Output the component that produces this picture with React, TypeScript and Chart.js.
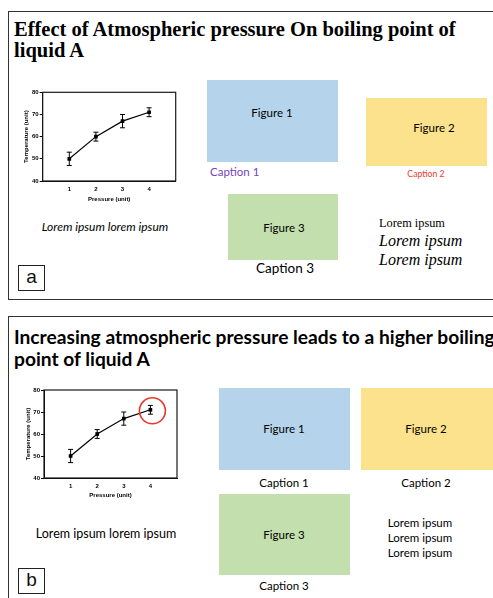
import React, { useEffect, useRef } from "react";
import { Chart, registerables } from "chart.js";

Chart.register(...registerables);

// ---- data ----
const pressure = [1, 2, 3, 4];
const temperature = [50, 60, 67, 71];
const tempError = [3, 2, 3, 2];
const xTickValues = [1, 2, 3, 4];
const yTickStep = 10;
const yRange = [40, 80];
const xRange = [0, 5];
const highlightIndex = 3;

const AXIS_FONT = { family: "'Liberation Sans', Arial, sans-serif", size: 6, weight: "bold" as const };

const errorBarPlugin = {
  id: "errorBars",
  afterDatasetsDraw(chart: any) {
    const { ctx } = chart;
    const x = chart.scales.x;
    const y = chart.scales.y;
    ctx.save();
    ctx.strokeStyle = "#000";
    ctx.lineWidth = 1;
    pressure.forEach((p, i) => {
      const px = x.getPixelForValue(p);
      const top = y.getPixelForValue(temperature[i] + tempError[i]);
      const bot = y.getPixelForValue(temperature[i] - tempError[i]);
      ctx.beginPath();
      ctx.moveTo(px, top);
      ctx.lineTo(px, bot);
      ctx.moveTo(px - 2.5, top);
      ctx.lineTo(px + 2.5, top);
      ctx.moveTo(px - 2.5, bot);
      ctx.lineTo(px + 2.5, bot);
      ctx.stroke();
    });
    ctx.restore();
  },
};

const boxPlugin = {
  id: "plotBox",
  afterDraw(chart: any) {
    const { ctx, chartArea } = chart;
    ctx.save();
    ctx.strokeStyle = "#1a1a1a";
    ctx.lineWidth = 1.2;
    ctx.strokeRect(chartArea.left, chartArea.top, chartArea.right - chartArea.left, chartArea.bottom - chartArea.top);
    ctx.restore();
  },
};

const highlightPlugin = {
  id: "highlight",
  afterDraw(chart: any, _args: any, opts: any) {
    if (!opts || !opts.show) return;
    const { ctx } = chart;
    const px = chart.scales.x.getPixelForValue(pressure[highlightIndex]) + 2;
    const py = chart.scales.y.getPixelForValue(temperature[highlightIndex]) + 1;
    ctx.save();
    ctx.strokeStyle = "#e8392d";
    ctx.lineWidth = 1.6;
    ctx.beginPath();
    ctx.arc(px, py, 13, 0, Math.PI * 2);
    ctx.stroke();
    ctx.restore();
  },
};

type ChartProps = {
  left: number;
  top: number;
  width: number;
  height: number;
  yAxisWidth: number;
  padTop: number;
  padRight: number;
  xAxisHeight: number;
  xTitlePadBottom: number;
  yTitlePadTop: number;
  highlight?: boolean;
};

function ErrorChart(p: ChartProps) {
  const ref = useRef<HTMLCanvasElement | null>(null);
  useEffect(() => {
    if (!ref.current) return;
    const chart = new Chart(ref.current, {
      type: "line",
      data: {
        datasets: [
          {
            data: pressure.map((x, i) => ({ x, y: temperature[i] })),
            borderColor: "#000",
            borderWidth: 1.2,
            pointStyle: "rect",
            pointRadius: 2.6,
            pointBackgroundColor: "#000",
            pointBorderColor: "#000",
            pointBorderWidth: 0,
            tension: 0,
          },
        ],
      },
      options: {
        responsive: false,
        animation: false,
        devicePixelRatio: 1,
        layout: { padding: { top: p.padTop, right: p.padRight, left: 0, bottom: 0 } },
        plugins: {
          legend: { display: false },
          tooltip: { enabled: false },
          highlight: { show: !!p.highlight },
        } as any,
        scales: {
          x: {
            type: "linear",
            min: xRange[0],
            max: xRange[1],
            afterBuildTicks: (axis: any) => {
              axis.ticks = xTickValues.map((v) => ({ value: v }));
            },
            afterFit: (s: any) => {
              s.height = p.xAxisHeight;
            },
            grid: { display: false, drawTicks: false, tickLength: 0 },
            border: { display: true, color: "#000", width: 1 },
            ticks: { font: AXIS_FONT, color: "#000", padding: 5, maxRotation: 0 },
            title: {
              display: true,
              text: "Pressure (unit)",
              font: AXIS_FONT,
              color: "#000",
              padding: { top: 0, bottom: p.xTitlePadBottom },
            },
          },
          y: {
            type: "linear",
            min: yRange[0],
            max: yRange[1],
            afterFit: (s: any) => {
              s.width = p.yAxisWidth;
            },
            grid: { display: true, drawOnChartArea: false, drawTicks: true, tickLength: 3, color: "#000" },
            border: { display: true, color: "#000", width: 1 },
            ticks: { stepSize: yTickStep, font: AXIS_FONT, color: "#000", padding: 1 },
            title: {
              display: true,
              text: "Temperature (unit)",
              font: AXIS_FONT,
              color: "#000",
              padding: { top: p.yTitlePadTop, bottom: 0 },
            },
          },
        },
      },
      plugins: [errorBarPlugin, boxPlugin, highlightPlugin],
    } as any);
    return () => chart.destroy();
  }, []);
  return (
    <canvas
      ref={ref}
      width={p.width}
      height={p.height}
      style={{ position: "absolute", left: p.left, top: p.top, width: p.width, height: p.height }}
    />
  );
}

type TProps = {
  x: number;
  y: number;
  center?: boolean;
  size: number;
  family: string;
  color?: string;
  italic?: boolean;
  bold?: boolean;
  children: React.ReactNode;
};

function T({ x, y, center, size, family, color = "#000", italic, bold, children }: TProps) {
  return (
    <div
      style={{
        position: "absolute",
        left: x,
        top: y,
        transform: `translate(${center ? "-50%" : "0"}, -50%)`,
        fontSize: size,
        fontFamily: family,
        fontStyle: italic ? "italic" : "normal",
        fontWeight: bold ? 700 : 400,
        color,
        lineHeight: 1,
        whiteSpace: "nowrap",
      }}
    >
      {children}
    </div>
  );
}

const SANS = "Lato, 'Open Sans', sans-serif";
const SERIF = "'Liberation Serif', 'Times New Roman', serif";
const ARIAL = "'Liberation Sans', Arial, sans-serif";
const BLUE = "#b5d4ec";
const YELLOW = "#fce28d";
const GREEN = "#c3dfae";

function Rect({ x, y, w, h, bg }: { x: number; y: number; w: number; h: number; bg: string }) {
  return <div style={{ position: "absolute", left: x, top: y, width: w, height: h, background: bg }} />;
}

function Tag({ x, y, letter }: { x: number; y: number; letter: string }) {
  return (
    <div
      style={{
        position: "absolute",
        left: x,
        top: y,
        width: 25,
        height: 24,
        border: "1.3px solid #222",
        fontFamily: ARIAL,
        fontSize: 19,
        lineHeight: "22px",
        textAlign: "center",
        color: "#111",
      }}
    >
      {letter}
    </div>
  );
}

export default function App() {
  return (
    <div style={{ position: "absolute", left: 0, top: 0, width: 493, height: 598, overflow: "hidden", background: "#fff" }}>
      {/* Panel a */}
      <div
        style={{
          position: "absolute",
          left: 8,
          top: 11,
          width: 500,
          height: 287,
          border: "1.4px solid #333",
        }}
      />
      <div
        style={{
          position: "absolute",
          left: 14,
          top: 19,
          fontFamily: SERIF,
          fontWeight: 700,
          fontSize: 20.5,
          lineHeight: "21px",
          whiteSpace: "nowrap",
          color: "#000",
        }}
      >
        <div style={{ height: 21 }}>Effect of Atmospheric pressure On boiling point of</div>
        <div style={{ height: 21 }}>liquid A</div>
      </div>
      <ErrorChart
        left={18}
        top={85}
        width={170}
        height={125}
        yAxisWidth={24.7}
        padTop={7.3}
        padRight={12.3}
        xAxisHeight={29}
        xTitlePadBottom={7.4}
        yTitlePadTop={4.4}
      />
      <T x={105} y={227} center size={12} family={SANS} italic>
        Lorem ipsum lorem ipsum
      </T>
      <Rect x={207} y={80} w={131} h={82} bg={BLUE} />
      <T x={272} y={113} center size={11.5} family={SANS}>
        Figure 1
      </T>
      <T x={210} y={172} size={11.5} family={SANS} color="#7845b6">
        Caption 1
      </T>
      <Rect x={366} y={98} w={121} h={68} bg={YELLOW} />
      <T x={434} y={128} center size={11.5} family={SANS}>
        Figure 2
      </T>
      <T x={426} y={174} center size={8.7} family={SANS} color="#f03a2c">
        Caption 2
      </T>
      <Rect x={228} y={194} w={110} h={66} bg={GREEN} />
      <T x={284} y={228} center size={11.5} family={SANS}>
        Figure 3
      </T>
      <T x={285} y={269} center size={13.5} family={SANS}>
        Caption 3
      </T>
      <T x={379} y={223} size={12.3} family={SERIF}>
        Lorem ipsum
      </T>
      <T x={379} y={241} size={16} family={SERIF} italic>
        Lorem ipsum
      </T>
      <T x={379} y={260} size={16} family={SERIF} italic>
        Lorem ipsum
      </T>
      <Tag x={18} y={265} letter="a" />

      {/* Panel b */}
      <div
        style={{
          position: "absolute",
          left: 8,
          top: 316,
          width: 500,
          height: 300,
          border: "1.4px solid #333",
        }}
      />
      <div
        style={{
          position: "absolute",
          left: 14,
          top: 326,
          fontFamily: SANS,
          fontWeight: 700,
          fontSize: 19.2,
          lineHeight: "22px",
          whiteSpace: "nowrap",
          color: "#000",
        }}
      >
        <div style={{ height: 22 }}>Increasing atmospheric pressure leads to a higher boiling</div>
        <div style={{ height: 22 }}>point of liquid A</div>
      </div>
      <ErrorChart
        left={19}
        top={383}
        width={170}
        height={125}
        yAxisWidth={25}
        padTop={7}
        padRight={12}
        xAxisHeight={30}
        xTitlePadBottom={9.4}
        yTitlePadTop={5.7}
        highlight
      />
      <T x={106} y={534} center size={12.5} family={SANS}>
        Lorem ipsum lorem ipsum
      </T>
      <Rect x={219} y={388} w={131} h={82} bg={BLUE} />
      <T x={284} y={429} center size={11.5} family={SANS}>
        Figure 1
      </T>
      <T x={284} y={483} center size={11.5} family={SANS}>
        Caption 1
      </T>
      <Rect x={361} y={388} w={140} h={82} bg={YELLOW} />
      <T x={426} y={429} center size={11.5} family={SANS}>
        Figure 2
      </T>
      <T x={426} y={483} center size={11.5} family={SANS}>
        Caption 2
      </T>
      <Rect x={219} y={494} w={131} h={81} bg={GREEN} />
      <T x={284} y={535} center size={11.5} family={SANS}>
        Figure 3
      </T>
      <T x={284} y={586} center size={11.5} family={SANS}>
        Caption 3
      </T>
      <T x={420} y={523} center size={11.5} family={SANS}>
        Lorem ipsum
      </T>
      <T x={420} y={538} center size={11.5} family={SANS}>
        Lorem ipsum
      </T>
      <T x={420} y={553} center size={11.5} family={SANS}>
        Lorem ipsum
      </T>
      <Tag x={18} y={568} letter="b" />
    </div>
  );
}
